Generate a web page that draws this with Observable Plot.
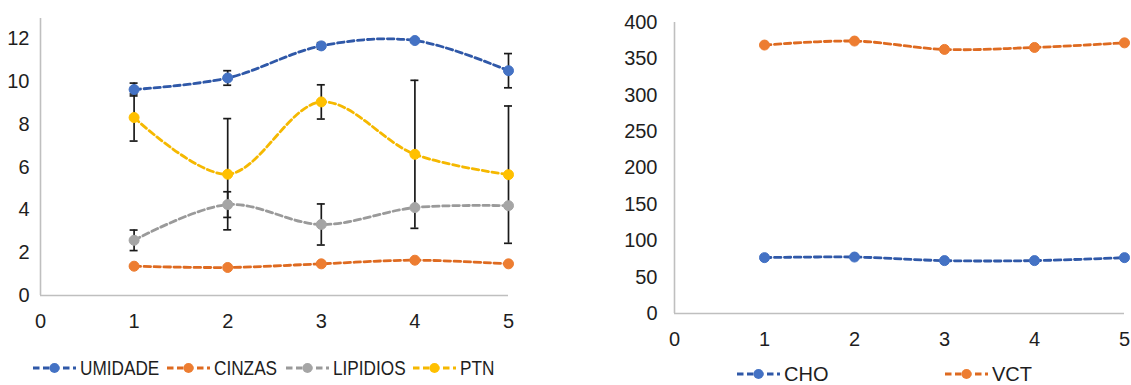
<!DOCTYPE html>
<html>
<head>
<meta charset="utf-8">
<script src="https://cdn.jsdelivr.net/npm/d3@7"></script>
<script src="https://cdn.jsdelivr.net/npm/@observablehq/plot@0.6"></script>
<style>
  html, body { margin: 0; padding: 0; background: #fff; }
  #root { position: relative; width: 1131px; height: 385px; overflow: hidden; background: #fff;
          font-family: "Liberation Sans", Arial, sans-serif; color: #1e1e1e; }
  .panel { position: absolute; top: 0; }
  .panel svg { overflow: visible; }
  .leg { position: absolute; display: flex; align-items: center; height: 20px; }
  .leg span { font-size: 20px; line-height: 20px; white-space: nowrap; display: inline-block; }
</style>
</head>
<body>
<div id="root">
  <div id="left" class="panel" style="left:0px"></div>
  <div id="right" class="panel" style="left:620px"></div>
</div>
<script>
// ---- data ----
const xValues = [1, 2, 3, 4, 5];
const xTicks = [0, 1, 2, 3, 4, 5];
const leftYTicks = [0, 2, 4, 6, 8, 10, 12];
const rightYTicks = [0, 50, 100, 150, 200, 250, 300, 350, 400];

const leftSeries = ["UMIDADE", "CINZAS", "LIPIDIOS", "PTN"];
const umidade = [9.63, 10.17, 11.67, 11.92, 10.51];
const umidadeErr = [0.30, 0.34, 0.15, 0.08, 0.80];
const cinzas = [1.37, 1.31, 1.48, 1.65, 1.48];
const cinzasErr = [0.04, 0.04, 0.04, 0.04, 0.04];
const lipidios = [2.58, 4.25, 3.32, 4.11, 4.20];
const lipidiosErr = [0.48, 0.60, 0.96, 0, 0];
const ptn = [8.32, 5.67, 9.05, 6.60, 5.65];
const ptnErr = [1.10, 2.60, 0.80, 3.46, 3.21];

const rightSeries = ["CHO", "VCT"];
const cho = [76.8, 77.6, 72.7, 72.7, 76.8];
const choErr = [0.5, 0.5, 0.5, 0.5, 0.5];
const vct = [369, 374.5, 363, 365.7, 372];
const vctErr = [0.8, 0.8, 3, 0.8, 0.8];

// ---- styles ----
const lineColor = { UMIDADE: "#2F58A8", CINZAS: "#DE6A20", LIPIDIOS: "#9A9A9A", PTN: "#F5B800", CHO: "#2F58A8", VCT: "#DE6A20" };
const dotColor  = { UMIDADE: "#4472C4", CINZAS: "#ED7D31", LIPIDIOS: "#A5A5A5", PTN: "#FFC000", CHO: "#4472C4", VCT: "#ED7D31" };

function rows(name, vals, errs) {
  return xValues.map((x, i) => ({ series: name, x, y: vals[i], err: errs[i] }));
}
const leftData = {
  UMIDADE: rows("UMIDADE", umidade, umidadeErr),
  CINZAS: rows("CINZAS", cinzas, cinzasErr),
  LIPIDIOS: rows("LIPIDIOS", lipidios, lipidiosErr),
  PTN: rows("PTN", ptn, ptnErr)
};
const rightData = {
  CHO: rows("CHO", cho, choErr),
  VCT: rows("VCT", vct, vctErr)
};

function seriesMarks(data, names) {
  const m = [];
  for (const s of names) {
    m.push(Plot.line(data[s], { x: "x", y: "y", stroke: lineColor[s], strokeWidth: 2.8,
      strokeDasharray: "6.5,3.5", curve: "catmull-rom" }));
  }
  for (const s of names) {
    const d = data[s];
    m.push(Plot.ruleX(d, { x: "x", y1: r => r.y - r.err, y2: r => r.y + r.err, stroke: "#1a1a1a", strokeWidth: 1.7 }));
    m.push(Plot.ruleY(d, { y: r => r.y - r.err, x1: "x", x2: "x", insetLeft: -4, insetRight: -4, stroke: "#1a1a1a", strokeWidth: 1.7 }));
    m.push(Plot.ruleY(d, { y: r => r.y + r.err, x1: "x", x2: "x", insetLeft: -4, insetRight: -4, stroke: "#1a1a1a", strokeWidth: 1.7 }));
  }
  for (const s of names) {
    m.push(Plot.dot(data[s], { x: "x", y: "y", r: 5, fill: dotColor[s], stroke: dotColor[s], strokeWidth: 1 }));
  }
  return m;
}

const axisStyle = { fontFamily: "'Liberation Sans', Arial, sans-serif", fontSize: "20px", color: "#1e1e1e", background: "transparent" };
const intFmt = d3.format("d");

const leftPlot = Plot.plot({
  width: 530, height: 340,
  marginLeft: 40, marginRight: 22, marginTop: 18, marginBottom: 45,
  style: axisStyle,
  x: { domain: [0, 5] },
  y: { domain: [0, 12.95] },
  marks: [
    Plot.axisX({ ticks: xTicks, tickFormat: intFmt, tickSize: 0, tickPadding: 18, label: null, fontSize: 20, fill: "#1e1e1e" }),
    Plot.axisY({ ticks: leftYTicks, tickFormat: intFmt, tickSize: 0, tickPadding: 11, label: null, fontSize: 20, fill: "#1e1e1e" }),
    Plot.ruleY([0], { stroke: "#BFBFBF", strokeWidth: 1.6 }),
    Plot.ruleX([0], { stroke: "#BFBFBF", strokeWidth: 1.6 }),
    ...seriesMarks(leftData, leftSeries)
  ]
});
document.getElementById("left").appendChild(leftPlot);

const rightPlot = Plot.plot({
  width: 511, height: 360,
  marginLeft: 54, marginRight: 7, marginTop: 22, marginBottom: 47,
  style: axisStyle,
  x: { domain: [0, 5] },
  y: { domain: [0, 400] },
  marks: [
    Plot.axisX({ ticks: xTicks, tickFormat: intFmt, tickSize: 0, tickPadding: 18, label: null, fontSize: 20, fill: "#1e1e1e" }),
    Plot.axisY({ ticks: rightYTicks, tickFormat: intFmt, tickSize: 0, tickPadding: 17, label: null, fontSize: 20, fill: "#1e1e1e" }),
    Plot.ruleY([0], { stroke: "#BFBFBF", strokeWidth: 1.6 }),
    Plot.ruleX([0], { stroke: "#BFBFBF", strokeWidth: 1.6 }),
    ...seriesMarks(rightData, rightSeries)
  ]
});
document.getElementById("right").appendChild(rightPlot);

// ---- legends ----
function legendItem(name, keyLeft, centerY, textScale) {
  const div = document.createElement("div");
  div.className = "leg";
  div.style.left = keyLeft + "px";
  div.style.top = (centerY - 10) + "px";
  const ns = "http://www.w3.org/2000/svg";
  const svg = document.createElementNS(ns, "svg");
  svg.setAttribute("width", 43); svg.setAttribute("height", 14);
  const ln = document.createElementNS(ns, "line");
  ln.setAttribute("x1", 0); ln.setAttribute("x2", 43); ln.setAttribute("y1", 7); ln.setAttribute("y2", 7);
  ln.setAttribute("stroke", lineColor[name]); ln.setAttribute("stroke-width", 2.8);
  ln.setAttribute("stroke-dasharray", "6.5,3.5");
  const c = document.createElementNS(ns, "circle");
  c.setAttribute("cx", 21.5); c.setAttribute("cy", 7); c.setAttribute("r", 5);
  c.setAttribute("fill", dotColor[name]);
  svg.appendChild(ln); svg.appendChild(c);
  const sp = document.createElement("span");
  sp.textContent = name;
  sp.style.marginLeft = "4px";
  sp.style.transformOrigin = "left center";
  sp.style.transform = "scaleX(" + textScale + ")";
  div.appendChild(svg); div.appendChild(sp);
  document.getElementById("root").appendChild(div);
}
const leftLegendX = [33, 167, 286, 413];
leftSeries.forEach((s, i) => legendItem(s, leftLegendX[i], 368, 0.86));
const rightLegendX = [737, 945];
rightSeries.forEach((s, i) => legendItem(s, rightLegendX[i], 374, 1));
</script>
</body>
</html>
